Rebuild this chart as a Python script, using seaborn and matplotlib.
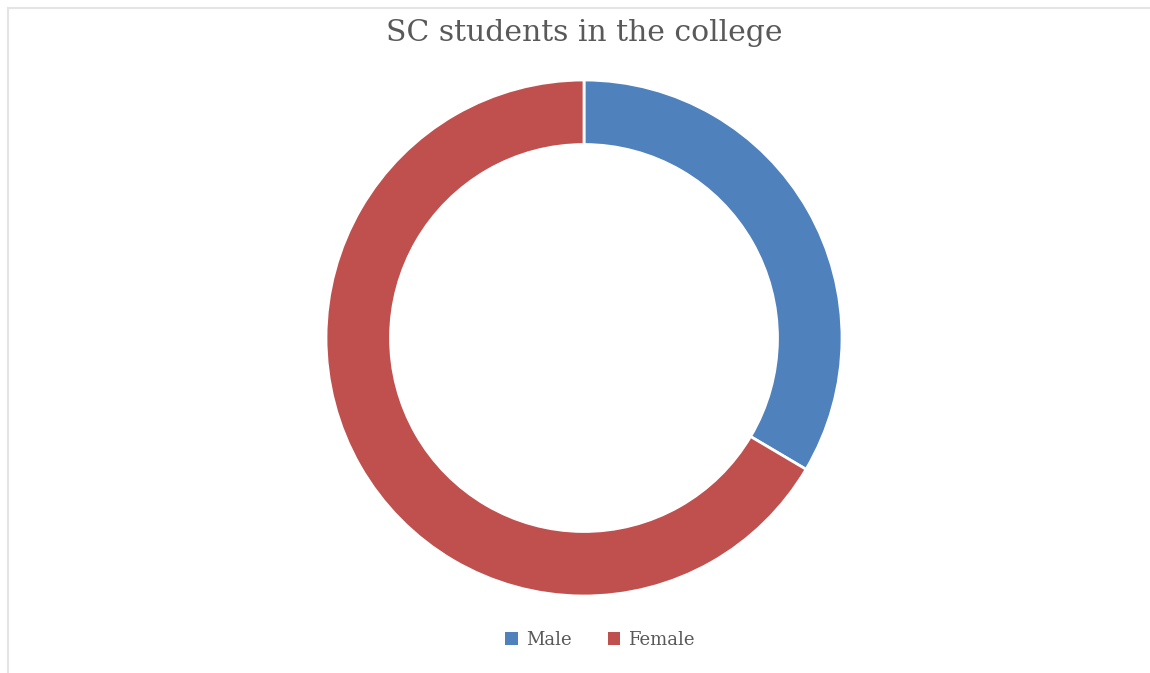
import matplotlib
matplotlib.use("Agg")
import matplotlib.pyplot as plt
from matplotlib.lines import Line2D
from matplotlib.patches import Patch
import seaborn as sns

# Share of SC students by gender
categories = ["Male", "Female"]
values = [33.5, 66.5]
title = "SC students in the college"

sns.set_theme(style="white")
plt.rcParams["font.family"] = ["DejaVu Serif", "DejaVu Sans"]
colors = sns.color_palette(["#4F81BD", "#C0504D"])

W, H = 1150, 673
fig = plt.figure(figsize=(W / 100, H / 100), dpi=100)
fig.patch.set_facecolor("white")

# thin frame on the top and left edges
fig.add_artist(Line2D([8 / W, 1], [1 - 8 / H, 1 - 8 / H], color="#e4e4e4", lw=1.5,
                      transform=fig.transFigure))
fig.add_artist(Line2D([8 / W, 8 / W], [0, 1 - 8 / H], color="#e4e4e4", lw=1.5,
                      transform=fig.transFigure))

cx, cy, r = 584, 338, 258
ax = fig.add_axes([(cx - r) / W, (H - cy - r) / H, 2 * r / W, 2 * r / H])
ax.pie(values, colors=colors, startangle=90, counterclock=False, radius=1,
       wedgeprops=dict(width=0.25, edgecolor="white", linewidth=2))
ax.set_xlim(-1, 1)
ax.set_ylim(-1, 1)
ax.set_aspect("auto")
ax.axis("off")

fig.text(cx / W, 1 - 33 / H, title, ha="center", va="center",
         fontsize=21.5, color="#595959")

handles = [Patch(facecolor=c, edgecolor="none") for c in colors]
fig.legend(handles, categories, loc="center", bbox_to_anchor=(600 / W, 1 - 640 / H),
           ncol=2, frameon=False, fontsize=13, handlelength=0.7, handleheight=0.7,
           handletextpad=0.45, columnspacing=2.0, labelcolor="#595959")

fig.savefig("out.png", dpi=100, facecolor="white")
